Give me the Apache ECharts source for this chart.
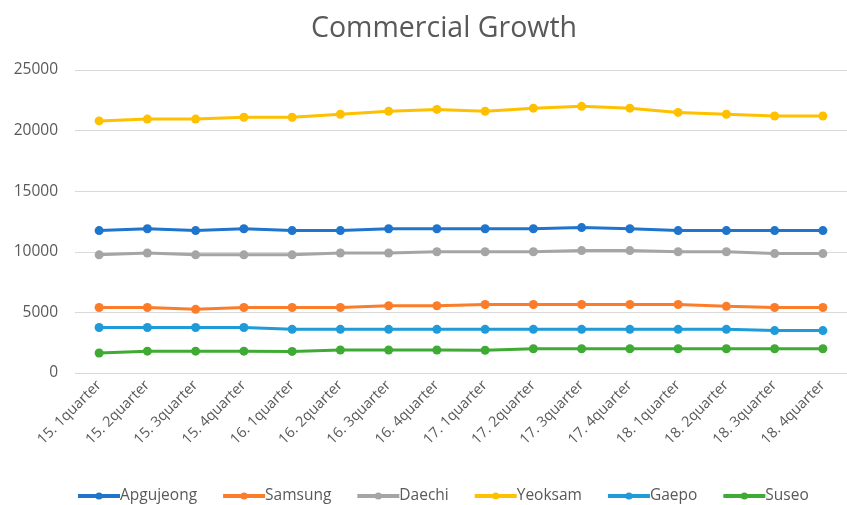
<!DOCTYPE html>
<html>
<head>
<meta charset="utf-8">
<script src="https://cdn.jsdelivr.net/npm/echarts@6/dist/echarts.min.js"></script>
<style>
  html, body { margin: 0; padding: 0; background: #fff; }
  #chart { width: 847px; height: 505px; }
</style>
</head>
<body>
<div id="chart"></div>
<script>
// Quarterly commercial figures by district
const quarters = [
  '15. 1quarter', '15. 2quarter', '15. 3quarter', '15. 4quarter',
  '16. 1quarter', '16. 2quarter', '16. 3quarter', '16. 4quarter',
  '17. 1quarter', '17. 2quarter', '17. 3quarter', '17. 4quarter',
  '18. 1quarter', '18. 2quarter', '18. 3quarter', '18. 4quarter'
];
const apgujeong = [11750, 11900, 11750, 11900, 11750, 11750, 11900, 11900, 11900, 11900, 12000, 11900, 11750, 11750, 11750, 11750];
const samsung   = [5400, 5400, 5250, 5400, 5400, 5400, 5550, 5550, 5650, 5650, 5650, 5650, 5650, 5500, 5400, 5400];
const daechi    = [9750, 9900, 9750, 9750, 9750, 9900, 9900, 10000, 10000, 10000, 10100, 10100, 10000, 10000, 9850, 9850];
const yeoksam   = [20800, 20950, 20950, 21100, 21100, 21350, 21600, 21750, 21600, 21850, 22000, 21850, 21500, 21350, 21200, 21200];
const gaepo     = [3750, 3750, 3750, 3750, 3600, 3600, 3600, 3600, 3600, 3600, 3600, 3600, 3600, 3600, 3500, 3500];
const suseo     = [1650, 1800, 1800, 1800, 1780, 1900, 1900, 1900, 1880, 2000, 2000, 2000, 2000, 2000, 2000, 2000];
const yTicks    = [0, 5000, 10000, 15000, 20000, 25000];

const seriesDefs = [
  { name: 'Apgujeong', data: apgujeong, color: '#1f74cc' },
  { name: 'Samsung',   data: samsung,   color: '#fb7d2a' },
  { name: 'Daechi',    data: daechi,    color: '#a5a5a5' },
  { name: 'Yeoksam',   data: yeoksam,   color: '#ffc000' },
  { name: 'Gaepo',     data: gaepo,     color: '#1e9bd8' },
  { name: 'Suseo',     data: suseo,     color: '#3fab35' }
];

const font = "'Open Sans', 'Noto Sans', sans-serif";
const textGray = '#595959';
const chart = echarts.init(document.getElementById('chart'), null, { renderer: 'canvas' });

chart.setOption({
  animation: false,
  backgroundColor: '#ffffff',
  title: {
    text: 'Commercial Growth',
    left: 306,
    top: 9,
    textStyle: { fontFamily: font, fontSize: 28.5, fontWeight: 'normal', color: textGray }
  },
  legend: {
    top: 483,
    left: 71,
    itemWidth: 42,
    itemHeight: 9,
    itemGap: 24,
    lineStyle: { width: 4 },
    textStyle: { fontFamily: font, fontSize: 15.5, color: textGray, padding: [0, 0, 0, -5] },
    data: seriesDefs.map(s => s.name)
  },
  grid: { left: 75, right: -16, top: 70, bottom: 132, containLabel: false },
  xAxis: {
    type: 'category',
    data: quarters,
    boundaryGap: true,
    axisLine: { show: false },
    axisTick: { show: false },
    axisLabel: {
      rotate: 45,
      interval: 0,
      margin: 10,
      fontFamily: font,
      fontSize: 14.5,
      color: textGray
    }
  },
  yAxis: {
    type: 'value',
    min: yTicks[0],
    max: yTicks[yTicks.length - 1],
    interval: 5000,
    axisLine: { show: false },
    axisTick: { show: false },
    axisLabel: {
      margin: 17,
      fontFamily: font,
      fontSize: 15.5,
      color: textGray,
      formatter: v => String(v)
    },
    splitLine: { lineStyle: { color: '#d9d9d9', width: 1 } }
  },
  series: seriesDefs.map(s => ({
    name: s.name,
    type: 'line',
    data: s.data,
    symbol: 'circle',
    symbolSize: 9,
    lineStyle: { color: s.color, width: 3 },
    itemStyle: { color: s.color },
    z: 3
  }))
});
</script>
</body>
</html>
